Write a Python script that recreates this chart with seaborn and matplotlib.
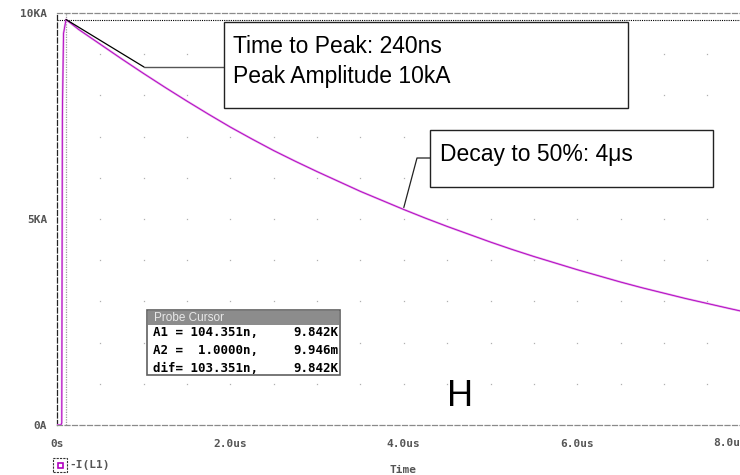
import numpy as np
import pandas as pd
import matplotlib
matplotlib.use("Agg")
import matplotlib.pyplot as plt
from matplotlib.patches import Rectangle
from matplotlib.lines import Line2D
import seaborn as sns

# Inductor current -I(L1): time in microseconds, current in kA
time_us = [0.0, 0.045, 0.055, 0.062, 0.075, 0.104, 0.25, 0.5, 0.75, 1.0,
           1.25, 1.5, 1.75, 2.0, 2.25, 2.5, 2.75, 3.0, 3.25, 3.5, 3.75, 4.0,
           4.25, 4.5, 4.75, 5.0, 5.25, 5.5, 5.75, 6.0, 6.25, 6.5, 6.75, 7.0,
           7.25, 7.5, 7.75, 7.9]
current_ka = [0.0, 0.0, 0.05, 7.5, 9.5, 9.842, 9.60, 9.24, 8.88, 8.53,
              8.19, 7.86, 7.54, 7.23, 6.94, 6.66, 6.40, 6.15, 5.91, 5.67, 5.45, 5.23,
              5.02, 4.82, 4.63, 4.44, 4.26, 4.09, 3.93, 3.77, 3.62, 3.47, 3.33, 3.20,
              3.07, 2.95, 2.83, 2.76]

# Probe cursor readout
cursor_a1 = (0.104351, 9.842)
cursor_rows = [("A1 = 104.351n,", "9.842K"),
               ("A2 =  1.0000n,", "9.946m"),
               ("dif= 103.351n,", "9.842K")]

x_ticks = [0, 2, 4, 6, 8]
x_tick_labels = ["0s", "2.0us", "4.0us", "6.0us", "8.0us"]
y_ticks = [0, 5, 10]
y_tick_labels = ["0A", "5KA", "10KA"]

df = pd.DataFrame({"t": time_us, "i": current_ka})

sns.set_style("white")
plt.rcParams["font.family"] = ["Liberation Sans", "DejaVu Sans"]

W, H = 740, 475
fig = plt.figure(figsize=(W / 100, H / 100), dpi=100)


def fx(x):
    return x / W


def fy(y):
    return 1 - y / H


ax = fig.add_axes([fx(57), fy(425), (740 - 57) / W, (425 - 13) / H])
ax.set_xlim(0, 683 / 86.7)
ax.set_ylim(0, 10)
ax.patch.set_alpha(0)

# faint grid dots
gx, gy = np.meshgrid(np.arange(0.5, 8.0, 0.5), np.arange(1, 10, 1))
ax.plot(gx.ravel(), gy.ravel(), linestyle="none", marker="s", markersize=0.9,
        color="#b0b0b0", markeredgewidth=0, zorder=0)

# cursor lines
ax.axvline(cursor_a1[0], color="#9a9a9a", lw=0.9, ls=(0, (1, 1)), zorder=1)
ax.axhline(cursor_a1[1], color="black", lw=0.8, ls=(0, (1, 1)), zorder=1)

# the waveform: soft pink underlay with a thin magenta trace on top
sns.lineplot(data=df, x="t", y="i", ax=ax, color="#e39be8", lw=1.5,
             estimator=None, sort=False, zorder=3)
sns.lineplot(data=df, x="t", y="i", ax=ax, color="#b000c0", lw=0.6,
             estimator=None, sort=False, zorder=4)

ax.set_xlabel("")
ax.set_ylabel("")

# frame
for side in ("top", "bottom"):
    ax.spines[side].set_visible(True)
    ax.spines[side].set_color("#8a8a8a")
    ax.spines[side].set_linestyle((0, (4, 2)))
    ax.spines[side].set_linewidth(0.9)
ax.spines["left"].set_color("#222222")
ax.spines["left"].set_linestyle((0, (4, 2)))
ax.spines["left"].set_linewidth(0.9)
ax.spines["right"].set_visible(False)

mono = dict(family="DejaVu Sans Mono", weight="bold", size=8, color="#555555")
ax.set_xticks(x_ticks[:-1])
ax.set_xticklabels(x_tick_labels[:-1], **mono)
ax.set_yticks(y_ticks)
ax.set_yticklabels(y_tick_labels, **mono)
ax.tick_params(axis="both", direction="out", length=4, width=0.8,
               color="#555555", pad=3)
ax.tick_params(axis="x", pad=6)
# last x label is pulled in against the right edge
fig.text(fx(713), fy(443), x_tick_labels[-1], ha="left", va="center", **mono)

fig.text(fx(403), fy(470), "Time", ha="center", va="center", **mono)

# trace legend
fig.add_artist(Rectangle((fx(53), fy(472)), 14 / W, 14 / H, fill=False,
                         ec="#333333", lw=0.8, ls=(0, (2, 1)),
                         transform=fig.transFigure))
fig.add_artist(Rectangle((fx(57.5), fy(467.5)), 5 / W, 5 / H, fill=False,
                         ec="#b000c0", lw=1.2, transform=fig.transFigure))
fig.text(fx(69), fy(465), "-I(L1)", ha="left", va="center", **mono)

# callout 1: time to peak / peak amplitude
peak_fig = fig.transFigure.inverted().transform(ax.transData.transform(cursor_a1))
fig.add_artist(Line2D([peak_fig[0], fx(144)], [peak_fig[1], fy(67)],
                      color="black", lw=0.9, transform=fig.transFigure, zorder=6))
fig.add_artist(Line2D([fx(144), fx(224)], [fy(67), fy(67)],
                      color="#555555", lw=1.0, transform=fig.transFigure, zorder=6))
fig.add_artist(Rectangle((fx(224), fy(108)), (628 - 224) / W, (108 - 22) / H,
                         fc="white", ec="#222222", lw=1.0,
                         transform=fig.transFigure, zorder=7))
fig.text(fx(233), fy(53), "Time to Peak: 240ns", ha="left", va="baseline",
         size=16.5, color="black", zorder=8)
fig.text(fx(233), fy(83), "Peak Amplitude 10kA", ha="left", va="baseline",
         size=16.5, color="black", zorder=8)

# callout 2: decay to half value
decay_pt = (4.0, current_ka[time_us.index(4.0)])
dp = fig.transFigure.inverted().transform(ax.transData.transform(decay_pt))
fig.add_artist(Line2D([dp[0], fx(417), fx(430)], [dp[1] + 2 / H, fy(158), fy(158)],
                      color="#222222", lw=0.9, transform=fig.transFigure, zorder=6))
fig.add_artist(Rectangle((fx(430), fy(187)), (713 - 430) / W, (187 - 130) / H,
                         fc="white", ec="#222222", lw=1.0,
                         transform=fig.transFigure, zorder=7))
fig.text(fx(440), fy(161), "Decay to 50%: 4\u03bcs", ha="left", va="baseline",
         size=16.5, color="black", zorder=8)

# probe cursor window
fig.add_artist(Rectangle((fx(147), fy(375)), (340 - 147) / W, (375 - 310) / H,
                         fc="white", ec="#606060", lw=1.2,
                         transform=fig.transFigure, zorder=7))
fig.add_artist(Rectangle((fx(148), fy(325)), (339 - 148) / W, (325 - 311) / H,
                         fc="#8c8c8c", ec="none",
                         transform=fig.transFigure, zorder=8))
fig.text(fx(154), fy(318), "Probe Cursor", ha="left", va="center",
         size=8.5, color="#e8e8e8", zorder=9)
row_font = dict(family="DejaVu Sans Mono", weight="bold", size=9,
                color="black", zorder=9)
for k, (left, right) in enumerate(cursor_rows):
    yy = fy(333 + 17.5 * k)
    fig.text(fx(153), yy, left, ha="left", va="center", **row_font)
    fig.text(fx(338), yy, right, ha="right", va="center", **row_font)

fig.text(fx(460), fy(396), "H", ha="center", va="center", size=26, color="black")

fig.savefig("out.png", dpi=100)
